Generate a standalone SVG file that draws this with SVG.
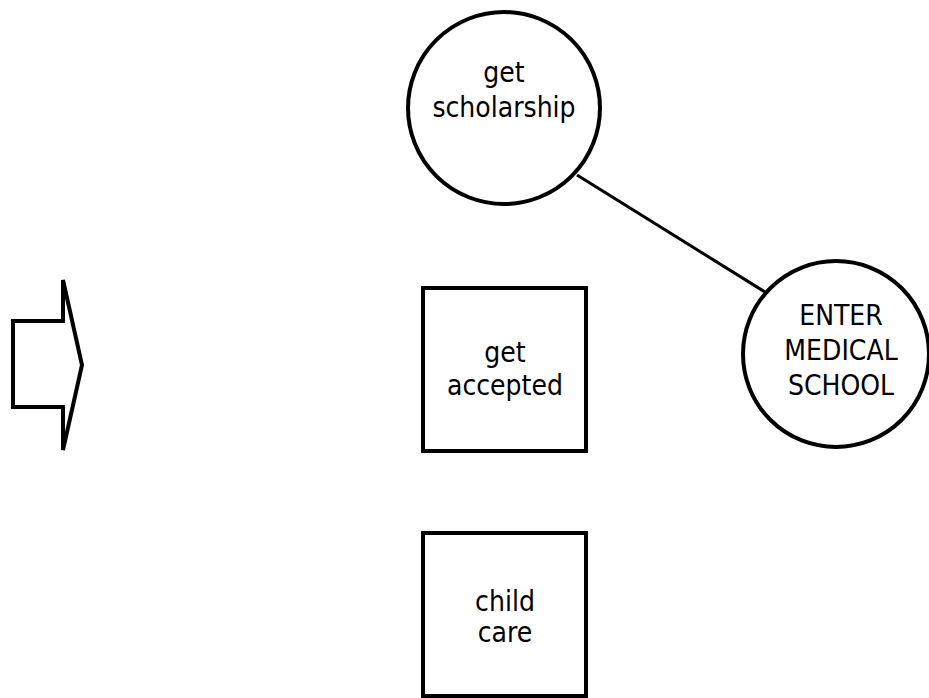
<svg xmlns="http://www.w3.org/2000/svg" width="929" height="698" viewBox="0 0 929 698">
  <style>
    .shape { fill: #ffffff; stroke: #000000; stroke-width: 4; }
    .link { fill: none; stroke: #000000; stroke-width: 3; }
    .label { font-family: "DejaVu Sans Condensed", "DejaVu Sans", sans-serif; font-stretch: condensed; font-size: 28px; fill: #000000; text-anchor: middle; }
  </style>
  <rect width="929" height="698" fill="#ffffff"/>

  <!-- connectors -->
  <g id="connectors">
    <line class="link" x1="577" y1="175" x2="765" y2="292"/>
  </g>

  <!-- block arrow on the left -->
  <g id="arrow">
    <path class="shape" d="M13,321 H63 V280 L82,365 L63,450 V407 H13 Z"/>
  </g>

  <g id="scholarship">
    <circle class="shape" cx="504" cy="108" r="96"/>
    <text class="label"><tspan x="504" y="82">get</tspan><tspan x="504" y="117">scholarship</tspan></text>
  </g>

  <g id="enter-medical-school">
    <circle class="shape" cx="836" cy="354" r="93"/>
    <text class="label"><tspan x="841" y="325">ENTER</tspan><tspan x="841" y="360">MEDICAL</tspan><tspan x="841" y="395">SCHOOL</tspan></text>
  </g>

  <g id="get-accepted">
    <rect class="shape" x="423" y="288" width="163" height="163"/>
    <text class="label"><tspan x="505" y="362">get</tspan><tspan x="505" y="395">accepted</tspan></text>
  </g>

  <g id="child-care">
    <rect class="shape" x="423" y="533" width="163" height="163"/>
    <text class="label"><tspan x="505" y="611">child</tspan><tspan x="505" y="642">care</tspan></text>
  </g>
</svg>
